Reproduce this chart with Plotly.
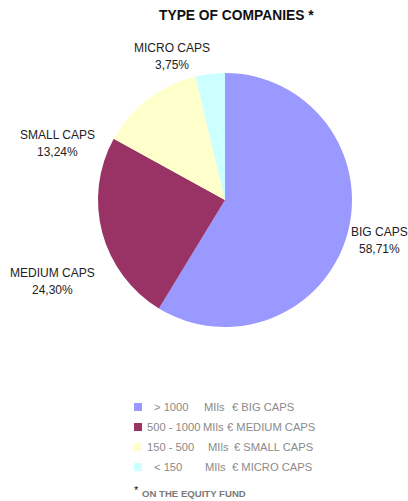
import plotly.graph_objects as go

# Portfolio split by company size
categories = ["BIG CAPS", "MEDIUM CAPS", "SMALL CAPS", "MICRO CAPS"]
shares = [58.71, 24.30, 13.24, 3.75]
colors = ["#9999FF", "#993366", "#FFFFCC", "#CCFFFF"]
size_ranges = ["> 1000", "500 - 1000", "150 - 500", "< 150"]
unit_label = "MIls"

W, H = 408, 501
FONT = "Liberation Sans, Arial, sans-serif"


def px(x):
    return x / W


def py(y):
    return 1 - y / H


# Pie geometry in pixels
cx, cy, r = 225, 200, 127

fig = go.Figure(
    go.Pie(
        labels=categories,
        values=shares,
        sort=False,
        direction="clockwise",
        rotation=0,
        marker=dict(colors=colors, line=dict(width=0)),
        textinfo="none",
        hoverinfo="label+percent",
        showlegend=False,
        domain=dict(x=[px(cx - r), px(cx + r)], y=[py(cy + r), py(cy - r)]),
    )
)

annotations = []
shapes = []

# Slice labels (name on top, value below)
label_pos = {
    "BIG CAPS": (379, 232),
    "MEDIUM CAPS": (52, 273),
    "SMALL CAPS": (57, 135),
    "MICRO CAPS": (172, 48),
}
for name, val in zip(categories, shares):
    x, y = label_pos[name]
    annotations.append(dict(x=px(x), y=py(y), text=name, showarrow=False,
                            xanchor="center", yanchor="middle",
                            font=dict(family=FONT, size=12, color="#222222")))
    annotations.append(dict(x=px(x), y=py(y + 17),
                            text=f"{val:.2f}".replace(".", ",") + "%",
                            showarrow=False, xanchor="center", yanchor="middle",
                            font=dict(family=FONT, size=12, color="#222222")))

# Title
annotations.append(dict(x=px(236), y=py(15), text="<b>TYPE OF COMPANIES *</b>",
                        showarrow=False, xanchor="center", yanchor="middle",
                        font=dict(family=FONT, size=13.8, color="#111111")))

# Custom legend
row_y = [407, 427, 447, 467]
range_x = [152, 145, 145, 152]
unit_x = [202, 201, 206, 203]
euro_x = [230, 225, 232, 230]
leg_font = dict(family=FONT, size=11.2, color="#8a8a8a")
for i, (rng, name, col) in enumerate(zip(size_ranges, categories, colors)):
    y = row_y[i]
    shapes.append(dict(type="rect", xref="paper", yref="paper",
                       x0=px(134), x1=px(142), y0=py(y + 4), y1=py(y - 4),
                       fillcolor=col, line=dict(width=0)))
    annotations.append(dict(x=px(range_x[i]), y=py(y), text=rng, showarrow=False,
                            xanchor="left", yanchor="middle", font=leg_font))
    annotations.append(dict(x=px(unit_x[i]), y=py(y), text=unit_label, showarrow=False,
                            xanchor="left", yanchor="middle", font=leg_font))
    annotations.append(dict(x=px(euro_x[i]), y=py(y), text="€ " + name, showarrow=False,
                            xanchor="left", yanchor="middle", font=leg_font))

# Footnote
annotations.append(dict(x=px(132), y=py(490), text="*", showarrow=False,
                        xanchor="left", yanchor="middle",
                        font=dict(family=FONT, size=11, color="#111111")))
annotations.append(dict(x=px(140), y=py(493), text="<b>ON THE EQUITY FUND</b>",
                        showarrow=False, xanchor="left", yanchor="middle",
                        font=dict(family=FONT, size=9.6, color="#7a7a7a")))

fig.update_layout(
    width=W,
    height=H,
    margin=dict(l=0, r=0, t=0, b=0),
    paper_bgcolor="white",
    plot_bgcolor="white",
    annotations=annotations,
    shapes=shapes,
)

fig.write_html("out.html", config={"displayModeBar": False})
